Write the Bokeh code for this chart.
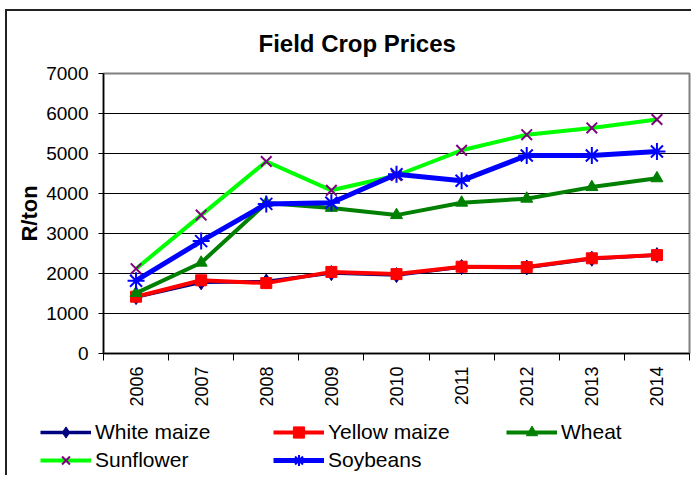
import math
from bokeh.plotting import figure
from bokeh.layouts import column
from bokeh.models import FixedTicker, Legend, LegendItem, Range1d
from bokeh.embed import file_html
from bokeh.resources import INLINE

# ---- data ----
years = ["2006", "2007", "2008", "2009", "2010", "2011", "2012", "2013", "2014"]
white_maize = [1410, 1780, 1800, 2010, 1960, 2160, 2150, 2370, 2460]
yellow_maize = [1420, 1830, 1760, 2040, 1985, 2170, 2160, 2380, 2460]
wheat = [1510, 2270, 3760, 3640, 3460, 3770, 3870, 4160, 4380]
sunflower = [2120, 3460, 4800, 4080, 4450, 5080, 5470, 5640, 5850]
soybeans = [1820, 2810, 3740, 3770, 4480, 4320, 4950, 4950, 5050]
y_ticks = [0, 1000, 2000, 3000, 4000, 5000, 6000, 7000]
title_text = "Field Crop Prices"
y_label = "R/ton"

FONT = "Liberation Sans"
n = len(years)
xc = [i + 0.5 for i in range(n)]

p = figure(width=684, height=400, x_range=Range1d(0, n), y_range=Range1d(y_ticks[0], y_ticks[-1]),
           output_backend="svg", toolbar_location=None,
           min_border_left=96, min_border_right=2, min_border_top=60, min_border_bottom=58)
p.frame_align = False

p.title.text = title_text
p.title.align = "left"
p.title.offset = 155
p.title.standoff = 33
p.title.text_font = FONT
p.title.text_font_size = "24px"
p.title.text_font_style = "bold"
p.title.text_color = "black"

p.outline_line_color = "#808080"
p.outline_line_width = 2

# y axis
p.yaxis.ticker = FixedTicker(ticks=y_ticks)
p.yaxis.axis_label = y_label
p.yaxis.axis_label_text_font = FONT
p.yaxis.axis_label_text_font_size = "22px"
p.yaxis.axis_label_text_font_style = "bold"
p.yaxis.axis_label_text_color = "black"
p.yaxis.axis_label_standoff = 1
p.yaxis.major_label_text_font = FONT
p.yaxis.major_label_text_font_size = "19px"
p.yaxis.major_label_text_color = "black"
p.yaxis.major_label_standoff = 10
p.yaxis.major_tick_out = 5
p.yaxis.major_tick_in = 0
p.yaxis.minor_tick_line_color = None
p.yaxis.axis_line_color = "black"
p.yaxis.axis_line_width = 1.5
p.yaxis.major_tick_line_color = "black"

# x axis: labels at category centres, tick marks at category boundaries
p.xaxis.ticker = FixedTicker(ticks=xc, minor_ticks=list(range(n + 1)))
p.xaxis.major_label_overrides = {c: yr for c, yr in zip(xc, years)}
p.xaxis.major_label_orientation = math.pi / 2
p.xaxis.major_label_text_font = FONT
p.xaxis.major_label_text_font_size = "18px"
p.xaxis.major_label_text_color = "black"
p.xaxis.major_label_standoff = 6
p.xaxis.major_tick_line_color = None
p.xaxis.minor_tick_out = 7
p.xaxis.minor_tick_in = 0
p.xaxis.minor_tick_line_color = "black"
p.xaxis.axis_line_color = "black"
p.xaxis.axis_line_width = 1.5

p.xgrid.visible = False
p.ygrid.grid_line_color = "black"
p.ygrid.grid_line_width = 1

series = [
    ("White maize", white_maize, "#000080", "diamond", 15, "#000080", 3.5),
    ("Yellow maize", yellow_maize, "#FF0000", "square", 11, "#FF0000", 4),
    ("Wheat", wheat, "#008000", "triangle", 12, "#008000", 4),
    ("Sunflower", sunflower, "#00FF00", "x", 15, "#800080", 4),
    ("Soybeans", soybeans, "#0000FF", "asterisk", 17, "#0000FF", 5),
]

# legend strip (a second figure below the chart, sharing the same styles)
lf = figure(width=684, height=64, x_range=Range1d(0, 1), y_range=Range1d(0, 1),
            x_axis_type=None, y_axis_type=None, output_backend="svg", toolbar_location=None,
            min_border_left=0, min_border_right=0, min_border_top=0, min_border_bottom=0)
lf.frame_align = False
lf.outline_line_color = None
lf.grid.visible = False

items = []
for name, vals, lc, mk, sz, mc, lw in series:
    for fig in (p, lf):
        rl = fig.line(xc, vals, line_color=lc, line_width=lw)
        if mk in ("x", "asterisk"):
            rm = fig.scatter(xc, vals, marker=mk, size=sz, line_color=mc, line_width=2)
        else:
            rm = fig.scatter(xc, vals, marker=mk, size=sz, fill_color=mc, line_color=mc)
    items.append(LegendItem(label=name, renderers=[rl, rm]))

def make_legend(its, loc):
    return Legend(items=its, location=loc, orientation="horizontal",
                  glyph_width=51, glyph_height=28, label_standoff=4, label_width=178,
                  label_height=28, spacing=0, padding=0, margin=0,
                  border_line_color=None, background_fill_alpha=0,
                  label_text_font=FONT, label_text_font_size="21px", label_text_color="black")

lf.add_layout(make_legend(items[:3], (33, 29)))
lf.add_layout(make_legend(items[3:], (33, 1)))

layout = column(p, lf, spacing=0)
layout.styles = {"border-left": "2px solid #222", "border-top": "2px solid #222",
                 "margin-left": "5px", "margin-top": "9px"}

open("out.html", "w").write(file_html(layout, INLINE))
